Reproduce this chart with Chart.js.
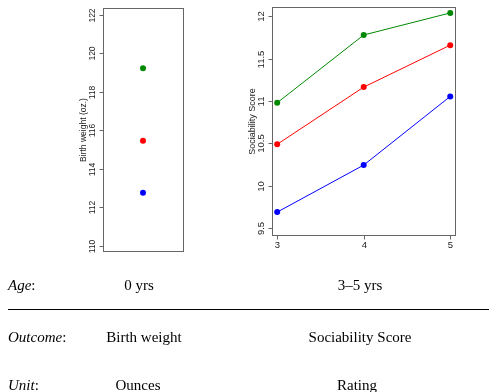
<!DOCTYPE html>
<html><head><meta charset="utf-8">
<script src="https://cdn.jsdelivr.net/npm/chart.js@4/dist/chart.umd.min.js"></script>
<style>
body{margin:0;background:#fff;width:489px;height:392px;overflow:hidden;position:relative}
canvas{position:absolute;left:0;top:0}
.t{position:absolute;font-family:"Liberation Serif",serif;font-size:15px;color:#000;white-space:nowrap;transform:translate(-50%,-50%)}
.l{position:absolute;left:8px;font-family:"Liberation Serif",serif;font-size:15px;color:#000;white-space:nowrap;transform:translateY(-50%)}
.l i{font-style:italic}
.rule{position:absolute;left:8px;right:0;top:309px;height:0;border-top:1.3px solid #000}
</style>
</head><body>
<canvas id="c1" width="489" height="392"></canvas>
<canvas id="c2" width="489" height="392"></canvas>
<div class="l" style="top:285px"><i>Age</i>:</div>
<div class="t" style="left:139px;top:285px">0 yrs</div>
<div class="t" style="left:360px;top:285px">3–5 yrs</div>
<div class="rule"></div>
<div class="l" style="top:337px"><i>Outcome</i>:</div>
<div class="t" style="left:144px;top:337px">Birth weight</div>
<div class="t" style="left:360px;top:337px">Sociability Score</div>
<div class="l" style="top:385px"><i>Unit</i>:</div>
<div class="t" style="left:138px;top:385px">Ounces</div>
<div class="t" style="left:357px;top:385px">Rating</div>
<script>
// ---- data ----
const groupColors = ['#008800', '#ff0000', '#0000ff'];
const birthWeight = [119.22, 115.45, 112.75];          // green, red, blue
const birthTicks = [110, 112, 114, 116, 118, 120, 122];
const ages = [3, 4, 5];
const socGreen = [10.98, 11.78, 12.04];
const socRed = [10.49, 11.165, 11.66];
const socBlue = [9.69, 10.245, 11.055];
const socTicks = [9.5, 10, 10.5, 11, 11.5, 12];
const socTickLabels = ['9.5', '10', '10.5', '11', '11.5', '12'];
const ageTickLabels = ['3', '4', '5'];

const rAxes = {
  id: 'rAxes',
  afterDraw(chart, args, o) {
    const {ctx, chartArea: a, scales: {x, y}} = chart;
    ctx.save();
    ctx.strokeStyle = '#666';
    ctx.lineWidth = 1;
    const L = Math.round(a.left) + 0.5, R = Math.round(a.right) + 0.5;
    const T = Math.round(a.top) + 0.5, B = Math.round(a.bottom) + 0.5;
    ctx.strokeRect(L, T, R - L, B - T);
    ctx.fillStyle = '#222';
    ctx.font = o.fontSize + 'px "Liberation Sans", Arial, sans-serif';
    ctx.textAlign = 'center';
    ctx.textBaseline = 'middle';
    o.yTicks.forEach((v, i) => {
      const py = Math.round(y.getPixelForValue(v)) + 0.5;
      ctx.beginPath(); ctx.moveTo(L - 4, py); ctx.lineTo(L, py); ctx.stroke();
      ctx.save();
      ctx.translate(L - 11, py);
      ctx.rotate(-Math.PI / 2);
      ctx.fillText(o.yLabels[i], 0, 0);
      ctx.restore();
    });
    if (o.xTicks) {
      o.xTicks.forEach((v, i) => {
        const px = Math.round(x.getPixelForValue(v)) + 0.5;
        ctx.beginPath(); ctx.moveTo(px, B); ctx.lineTo(px, B + 4); ctx.stroke();
        ctx.fillText(o.xLabels[i], px, B + 10);
      });
    }
    ctx.font = o.titleSize + 'px "Liberation Sans", Arial, sans-serif';
    ctx.save();
    ctx.translate(L - 20, (T + B) / 2);
    ctx.rotate(-Math.PI / 2);
    ctx.fillText(o.title, 0, 0);
    ctx.restore();
    ctx.restore();
  }
};

const common = {
  responsive: false,
  animation: false,
  plugins: {legend: {display: false}, tooltip: {enabled: false}},
};

new Chart(document.getElementById('c1'), {
  type: 'scatter',
  data: {
    datasets: birthWeight.map((v, i) => ({
      data: [{x: 1, y: v}],
      backgroundColor: groupColors[i], borderColor: groupColors[i],
      pointRadius: 3, borderWidth: 0
    }))
  },
  options: {
    ...common,
    layout: {padding: {left: 103, right: 306, top: 8, bottom: 141}},
    scales: {
      x: {type: 'linear', min: 0, max: 2, display: false},
      y: {type: 'linear', min: 109.72, max: 122.35, display: false}
    },
    plugins: {...common.plugins, rAxes: {
      yTicks: birthTicks, yLabels: birthTicks.map(String),
      title: 'Birth weight (oz.)', fontSize: 8.5, titleSize: 8.5
    }}
  },
  plugins: [rAxes]
});

const socSeries = [socGreen, socRed, socBlue];
new Chart(document.getElementById('c2'), {
  type: 'line',
  data: {
    datasets: socSeries.map((s, i) => ({
      data: s.map((v, j) => ({x: ages[j], y: v})),
      borderColor: groupColors[i], backgroundColor: groupColors[i],
      borderWidth: 1, pointRadius: 3, pointBorderWidth: 0, tension: 0
    }))
  },
  options: {
    ...common,
    layout: {padding: {left: 272, right: 34, top: 7, bottom: 157}},
    scales: {
      x: {type: 'linear', min: 2.94, max: 5.055, display: false},
      y: {type: 'linear', min: 9.42, max: 12.11, display: false}
    },
    plugins: {...common.plugins, rAxes: {
      yTicks: socTicks, yLabels: socTickLabels,
      xTicks: ages, xLabels: ageTickLabels,
      title: 'Sociability Score', fontSize: 9.5, titleSize: 9
    }}
  },
  plugins: [rAxes]
});
</script>
</body></html>
